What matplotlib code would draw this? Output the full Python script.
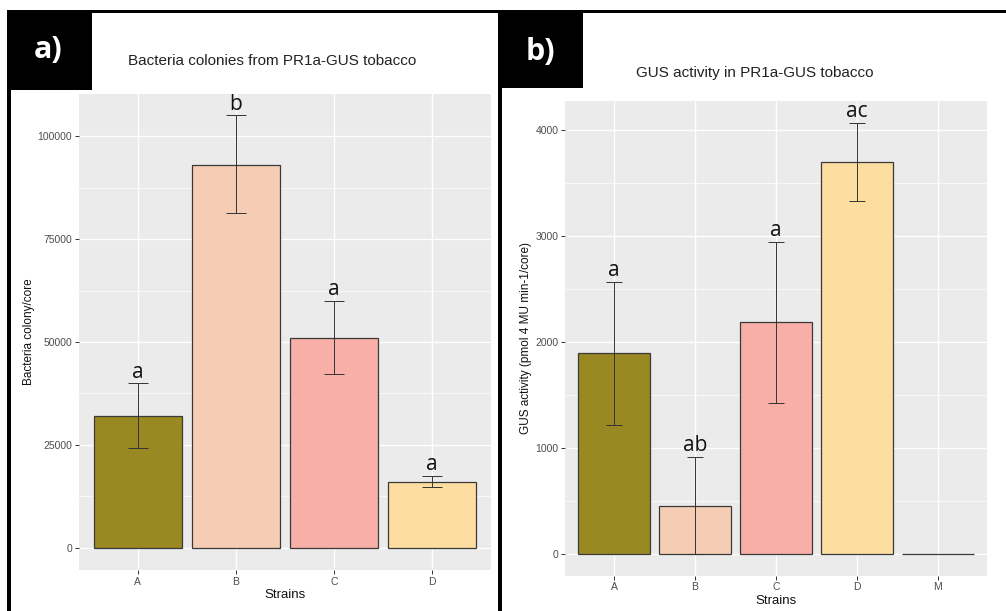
import numpy as np
import matplotlib
matplotlib.use("Agg")
import matplotlib.pyplot as plt
from matplotlib.patches import Rectangle

plt.rcParams['font.family'] = ['Liberation Sans', 'DejaVu Sans']

# panel a) bacteria colonies
strains_a = ["A", "B", "C", "D"]
colonies = [32000, 93000, 51000, 16000]
colonies_lo = [24200, 81300, 42200, 14700]
colonies_hi = [40000, 105000, 60000, 17500]
letters_a = ["a", "b", "a", "a"]
yticks_a = [0, 25000, 50000, 75000, 100000]

# panel b) GUS activity
strains_b = ["A", "B", "C", "D", "M"]
gus = [1900, 453, 2190, 3700, 0]
gus_lo = [1220, 0, 1425, 3330, 0]
gus_hi = [2570, 918, 2950, 4070, 0]
letters_b = ["a", "ab", "a", "ac", ""]
yticks_b = [0, 1000, 2000, 3000, 4000]

couleurs = ["#9A8822", "#F5CDB4", "#F8AFA8", "#FDDDA0", "#74A089"]

W, H = 1006, 611
fig = plt.figure(figsize=(W / 100, H / 100), dpi=100)


def px_rect(x0, y0, x1, y1):
    # pixels (from top-left) -> figure fraction
    return [x0 / W, 1 - y1 / H, (x1 - x0) / W, (y1 - y0) / H]


def panel(pos, strains, vals, lo, hi, letters, yticks, ylabel, capsize, ylabpad):
    ax = fig.add_axes(pos)
    ax.set_facecolor("#EBEBEB")
    x = np.arange(1, len(strains) + 1)
    ax.bar(x, vals, width=0.9, color=couleurs[:len(strains)], edgecolor="#3A3A3A", linewidth=0.9, zorder=3)
    vals = np.array(vals)
    lo = np.array(lo)
    hi = np.array(hi)
    has_err = hi > lo
    ax.errorbar(x[has_err], vals[has_err], yerr=[vals[has_err] - lo[has_err], hi[has_err] - vals[has_err]],
                fmt="none", ecolor="#333333", elinewidth=0.7, capsize=capsize, capthick=0.7, zorder=4)
    for xi, h, lab in zip(x, hi, letters):
        if lab:
            ax.annotate(lab, (xi, h), xytext=(0, 4), textcoords="offset points", ha="center", va="baseline",
                        fontsize=15, family="Open Sans", color="#111111", zorder=5)
    top = max(hi)
    ax.set_xlim(0.4, len(strains) + 0.6)
    ax.set_xticks(x)
    ax.set_xticklabels(strains)
    ax.set_yticks(yticks)
    ax.set_yticklabels([str(t) for t in yticks])
    ax.set_yticks([(a + b) / 2 for a, b in zip(yticks[:-1], yticks[1:])] + [yticks[-1] + (yticks[1] - yticks[0]) / 2], minor=True)
    ax.set_ylim(-0.05 * top, 1.05 * top)
    ax.grid(True, which="major", color="white", linewidth=1.0, zorder=0)
    ax.grid(True, which="minor", axis="y", color="white", linewidth=0.5, zorder=0)
    ax.set_axisbelow(True)
    for s in ax.spines.values():
        s.set_visible(False)
    ax.tick_params(which="major", length=3, width=0.7, color="#333333", labelsize=7.5, labelcolor="#4D4D4D", pad=2)
    ax.tick_params(which="minor", length=0)
    ax.set_xlabel("Strains", fontsize=9.5, color="#111111", labelpad=2)
    ax.set_ylabel(ylabel, fontsize=8.5, color="#111111", labelpad=ylabpad)
    return ax


panel(px_rect(79, 93.8, 491, 569.6), strains_a, colonies, colonies_lo, colonies_hi, letters_a,
      yticks_a, "Bacteria colony/core", 7, 1.5)
panel(px_rect(565.4, 101.4, 986.6, 575.5), strains_b, gus, gus_lo, gus_hi, letters_b,
      yticks_b, "GUS activity (pmol 4 MU min-1/core)", 5.8, 2.5)

# titles
fig.text(272 / W, 1 - 61 / H, "Bacteria colonies from PR1a-GUS tobacco", ha="center", va="center",
         fontsize=11, color="#222222")
fig.text(755 / W, 1 - 73 / H, "GUS activity in PR1a-GUS tobacco", ha="center", va="center",
         fontsize=11, color="#222222")

# black frame + label boxes
for r in [(7, 10, 1006, 13), (7, 10, 11, 611), (498, 10, 502, 611), (7, 10, 92, 90), (498, 10, 583, 88)]:
    l, b, w, h = px_rect(*r)
    fig.add_artist(Rectangle((l, b), w, h, transform=fig.transFigure, facecolor="black", edgecolor="none"))

fig.text(48 / W, 1 - 50 / H, "a)", ha="center", va="center", fontsize=22, fontweight="bold",
         family="Open Sans", color="white")
fig.text(540 / W, 1 - 52 / H, "b)", ha="center", va="center", fontsize=22, fontweight="bold",
         family="Open Sans", color="white")

fig.savefig("out.png", dpi=100)
plt.close()
